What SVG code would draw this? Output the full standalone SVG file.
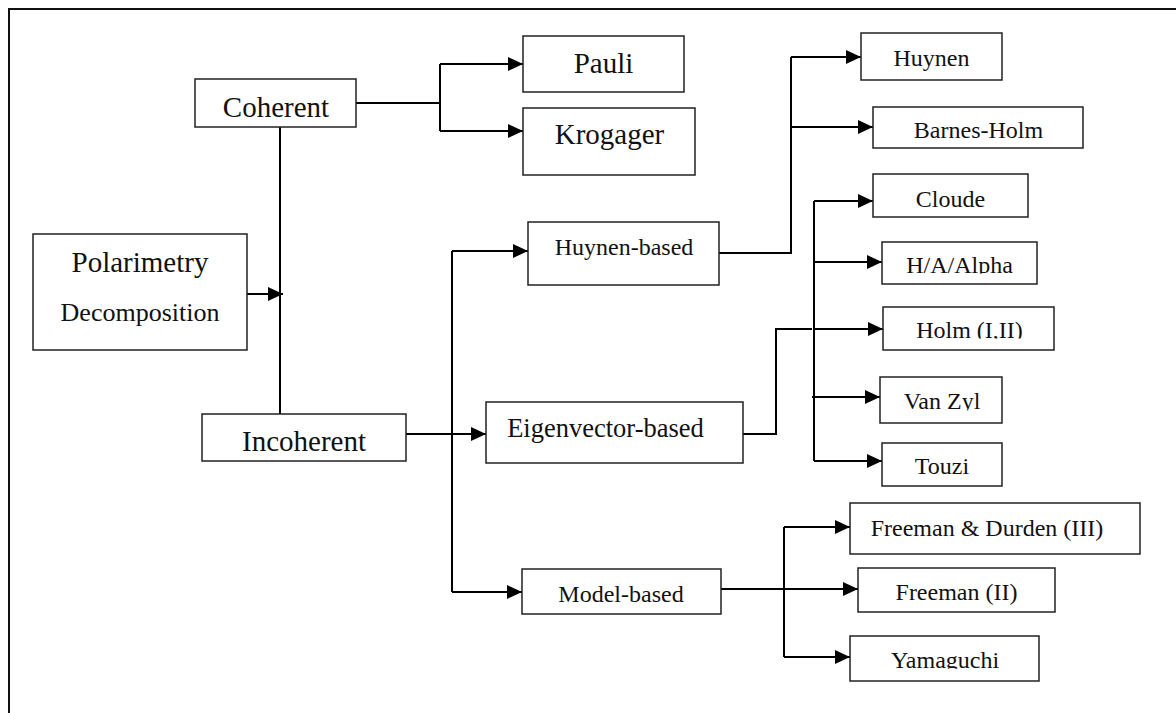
<svg xmlns="http://www.w3.org/2000/svg" width="1176" height="713" viewBox="0 0 1176 713">
  <style>
    .box { fill: #fff; stroke: #222; stroke-width: 1.5; }
    .lbl { font-family: "Liberation Serif", "Times New Roman", serif; fill: #111; text-anchor: middle; }
    .big { font-size: 29px; }
    .mid { font-size: 26.5px; }
    .sm { font-size: 24px; }
    .wire { fill: none; stroke: #000; stroke-width: 2; }
    .frame { fill: none; stroke: #111; stroke-width: 2; }
  </style>
  <defs>
    <marker id="arrow" markerUnits="userSpaceOnUse" markerWidth="15" markerHeight="14" viewBox="0 0 15 14" refX="15" refY="7" orient="auto">
      <path d="M0,0 L15,7 L0,14 Z" fill="#000"/>
    </marker>
    <!-- text boxes that cut off the lower part of their labels -->
    <clipPath id="clip-haalpha"><rect x="882" y="242" width="155" height="31.5"/></clipPath>
    <clipPath id="clip-holm"><rect x="883" y="307" width="171" height="31.5"/></clipPath>
    <clipPath id="clip-vanzyl"><rect x="880" y="377" width="122" height="33.5"/></clipPath>
    <clipPath id="clip-touzi"><rect x="882" y="443" width="120" height="32"/></clipPath>
    <clipPath id="clip-yamaguchi"><rect x="850" y="636" width="189" height="32.7"/></clipPath>
  </defs>

  <rect width="1176" height="713" fill="#fff"/>
  <path class="frame" d="M9,713 V9 H1176"/>

  <g id="connectors">
    <!-- root to coherent / incoherent trunk -->
    <line class="wire" x1="247" y1="294" x2="283" y2="294" marker-end="url(#arrow)"/>
    <line class="wire" x1="280" y1="127" x2="280" y2="414"/>
    <!-- coherent branch -->
    <path class="wire" d="M356,103 H440"/>
    <path class="wire" d="M440,64 V131"/>
    <line class="wire" x1="440" y1="64" x2="523" y2="64" marker-end="url(#arrow)"/>
    <line class="wire" x1="440" y1="131" x2="523" y2="131" marker-end="url(#arrow)"/>
    <!-- incoherent branch -->
    <line class="wire" x1="406" y1="434" x2="486" y2="434" marker-end="url(#arrow)"/>
    <path class="wire" d="M452,251 V592"/>
    <line class="wire" x1="452" y1="251" x2="528" y2="251" marker-end="url(#arrow)"/>
    <line class="wire" x1="452" y1="592" x2="522" y2="592" marker-end="url(#arrow)"/>
    <!-- Huynen-based branch -->
    <path class="wire" d="M719,253 H791 V57"/>
    <line class="wire" x1="791" y1="57" x2="861" y2="57" marker-end="url(#arrow)"/>
    <line class="wire" x1="791" y1="127" x2="873" y2="127" marker-end="url(#arrow)"/>
    <!-- eigenvector-based branch -->
    <path class="wire" d="M740,434 H776 V329 H812"/>
    <path class="wire" d="M814,201 V461"/>
    <line class="wire" x1="814" y1="201" x2="873" y2="201" marker-end="url(#arrow)"/>
    <line class="wire" x1="814" y1="262" x2="882" y2="262" marker-end="url(#arrow)"/>
    <line class="wire" x1="814" y1="329" x2="883" y2="329" marker-end="url(#arrow)"/>
    <line class="wire" x1="812" y1="397" x2="880" y2="397" marker-end="url(#arrow)"/>
    <line class="wire" x1="814" y1="461" x2="882" y2="461" marker-end="url(#arrow)"/>
    <!-- model-based branch -->
    <path class="wire" d="M721,589 H785"/>
    <path class="wire" d="M784,527 V657"/>
    <line class="wire" x1="784" y1="527" x2="850" y2="527" marker-end="url(#arrow)"/>
    <line class="wire" x1="784" y1="589" x2="858" y2="589" marker-end="url(#arrow)"/>
    <line class="wire" x1="784" y1="657" x2="850" y2="657" marker-end="url(#arrow)"/>
  </g>

  <g id="polarimetry">
    <rect class="box" x="33" y="234" width="214" height="116"/>
    <text class="lbl big" x="140" y="272">Polarimetry</text>
    <text class="lbl" style="font-size:26px" x="140" y="321">Decomposition</text>
  </g>
  <g id="coherent">
    <rect class="box" x="195" y="79" width="161" height="48"/>
    <text class="lbl big" x="276" y="117">Coherent</text>
  </g>
  <g id="incoherent">
    <rect class="box" x="202" y="414" width="204" height="47"/>
    <text class="lbl big" x="304" y="451">Incoherent</text>
  </g>
  <g id="pauli">
    <rect class="box" x="523" y="36" width="161" height="56"/>
    <text class="lbl big" x="603.5" y="73">Pauli</text>
  </g>
  <g id="krogager">
    <rect class="box" x="523" y="108" width="172" height="67"/>
    <text class="lbl big" x="609.5" y="144">Krogager</text>
  </g>
  <g id="huynen-based">
    <rect class="box" x="528" y="222" width="191" height="63"/>
    <text class="lbl sm" x="624" y="255">Huynen-based</text>
  </g>
  <g id="eigenvector-based">
    <rect class="box" x="486" y="402" width="257" height="61"/>
    <text class="lbl mid" x="605.5" y="437">Eigenvector-based</text>
  </g>
  <g id="model-based">
    <rect class="box" x="522" y="569" width="199" height="45"/>
    <text class="lbl sm" x="621" y="602">Model-based</text>
  </g>
  <g id="huynen">
    <rect class="box" x="861" y="33" width="141" height="47"/>
    <text class="lbl sm" x="931.5" y="66">Huynen</text>
  </g>
  <g id="barnes-holm">
    <rect class="box" x="873" y="107" width="210" height="41"/>
    <text class="lbl sm" x="978.5" y="138">Barnes-Holm</text>
  </g>
  <g id="cloude">
    <rect class="box" x="873" y="174" width="155" height="43"/>
    <text class="lbl sm" x="950.5" y="207">Cloude</text>
  </g>
  <g id="h-a-alpha">
    <rect class="box" x="882" y="242" width="155" height="42"/>
    <text class="lbl sm" x="959.5" y="273" clip-path="url(#clip-haalpha)">H/A/Alpha</text>
  </g>
  <g id="holm">
    <rect class="box" x="883" y="307" width="171" height="43"/>
    <text class="lbl sm" x="969.5" y="338" clip-path="url(#clip-holm)">Holm (I,II)</text>
  </g>
  <g id="van-zyl">
    <rect class="box" x="880" y="377" width="122" height="46"/>
    <text class="lbl sm" x="942" y="408.5" clip-path="url(#clip-vanzyl)">Van Zyl</text>
  </g>
  <g id="touzi">
    <rect class="box" x="882" y="443" width="120" height="43"/>
    <text class="lbl sm" x="942" y="473.5" clip-path="url(#clip-touzi)">Touzi</text>
  </g>
  <g id="freeman-durden">
    <rect class="box" x="850" y="503" width="290" height="51"/>
    <text class="lbl sm" x="987" y="536">Freeman &amp; Durden (III)</text>
  </g>
  <g id="freeman-ii">
    <rect class="box" x="858" y="568" width="197" height="44"/>
    <text class="lbl sm" x="956.5" y="599.5">Freeman (II)</text>
  </g>
  <g id="yamaguchi">
    <rect class="box" x="850" y="636" width="189" height="45"/>
    <text class="lbl sm" x="945" y="668.2" clip-path="url(#clip-yamaguchi)">Yamaguchi</text>
  </g>
</svg>
